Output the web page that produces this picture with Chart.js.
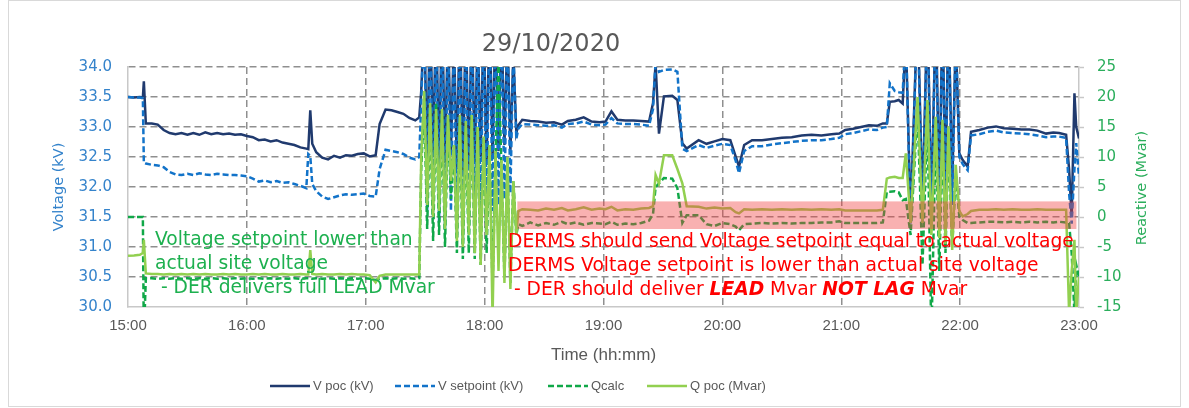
<!DOCTYPE html>
<html><head><meta charset="utf-8">
<script src="https://cdn.jsdelivr.net/npm/chart.js@4.4.0/dist/chart.umd.min.js"></script>
<style>html,body{margin:0;padding:0;background:#fff;}#wrap{width:1189px;height:408px;position:relative;}</style>
</head><body><div id="wrap"><canvas id="c" width="1189" height="408"></canvas></div>
<script>
// ---- data (minutes after 15:00) ----
const minutes = [0,3,6,7.5,8,9,12,15,18,21,24,27,30,33,36,39,42,45,48,51,54,57,60,63,66,69,72,75,78,81,84,87,90,91,92,93,95,98,101,104,107,110,113,116,119,122,125,127,130,133,136,139,142,145,147,
148,149.5,151,152.5,154,155.5,157,158.5,160,161.5,163,164.5,166,167.5,169,170.5,172,173.5,175,176.5,178,179.5,181,182.5,184,185.5,187,188.5,190,191.5,193,194.5,196,
197,199,203,207,211,215,219,222,226,230,234,238,241,244,247,251,255,259,263,265,266.3,268,270.5,274.7,277.3,279.8,282,288,292,296,300,304,306.7,308.4,311,315,320,325,330,335,340,345,350,355,359,362,366,370,374,378,381,383,384.5,387,389,391,
392.6,395,398.5,401,403.5,405.5,407.7,409.5,411.1,412.6,414.1,416,417.8,419.6,
421.3,423.8,425.5,429.7,434,438.1,442,446.5,451,455,459,463.4,467,470,473.5,475,476.3,477.7,478.6,480];
const vPoc = [33.50,33.49,33.50,33.49,33.76,33.06,33.06,33.04,32.95,32.90,32.88,32.90,32.87,32.90,32.87,32.91,32.88,32.90,32.88,32.89,32.87,32.88,32.85,32.83,32.78,32.79,32.76,32.78,32.74,32.72,32.70,32.66,32.64,32.63,33.28,32.72,32.58,32.49,32.46,32.52,32.49,32.53,32.52,32.55,32.56,32.51,32.53,33.05,33.29,33.28,33.25,33.22,33.15,33.11,33.16,
33.6,34.8,32.4,35.0,32.5,34.9,32.3,35.0,32.4,34.7,32.6,34.5,32.3,35.0,32.2,34.8,32.3,34.9,32.4,34.6,32.5,34.8,32.4,35.0,32.5,34.9,32.6,34.8,32.7,34.6,32.6,34.2,32.9,
33.03,33.12,33.10,33.09,33.07,33.08,33.04,33.10,33.12,33.16,33.09,33.08,33.09,33.26,33.12,33.11,33.11,33.10,33.09,33.40,34.05,32.89,33.51,33.52,33.45,32.73,32.64,32.78,32.72,32.76,32.80,32.78,32.51,32.34,32.70,32.78,32.78,32.80,32.82,32.83,32.86,32.87,32.86,32.88,32.89,32.95,32.97,33.00,33.03,33.02,33.06,33.06,33.42,33.43,33.45,33.39,
34.5,31.5,35.0,31.7,35.0,31.6,35.0,31.8,35.0,31.9,35.0,32.0,34.5,32.56,
32.45,32.34,32.92,32.95,32.99,33.01,32.98,32.97,32.96,32.96,32.94,32.89,32.91,32.90,32.87,32.30,31.50,33.56,33.00,32.81];
const vSetpoint = [33.50,33.49,33.49,33.48,32.40,32.39,32.37,32.36,32.33,32.25,32.21,32.20,32.22,32.20,32.23,32.21,32.20,32.22,32.21,32.20,32.20,32.19,32.18,32.14,32.09,32.11,32.08,32.10,32.07,32.08,32.05,32.02,31.98,32.55,32.52,32.05,31.93,31.84,31.80,31.83,31.86,31.88,31.87,31.88,31.89,31.85,31.84,32.30,32.62,32.60,32.58,32.55,32.49,32.46,32.50,
33.4,34.9,31.6,35.0,31.5,35.0,31.4,35.0,31.3,34.8,31.6,34.6,31.2,35.0,31.1,34.9,31.2,35.0,31.2,34.8,31.4,34.9,31.5,35.0,31.6,35.0,31.7,34.9,31.8,34.7,31.9,34.3,32.8,
32.97,33.05,33.04,33.03,33.02,33.03,32.99,33.05,33.06,33.09,33.04,33.03,33.04,33.15,33.06,33.05,33.05,33.04,33.02,33.30,34.10,33.92,33.95,33.96,33.92,32.64,32.60,32.70,32.65,32.69,32.72,32.70,32.44,32.23,32.60,32.68,32.68,32.71,32.73,32.75,32.77,32.78,32.78,32.80,32.82,32.88,32.90,32.93,32.96,32.95,32.99,33.00,33.73,33.60,33.58,33.57,
34.6,31.3,35.0,31.4,35.0,31.4,35.0,31.5,35.0,31.6,35.0,31.7,34.6,32.50,
32.38,32.28,32.86,32.88,32.92,32.94,32.91,32.90,32.89,32.88,32.86,32.83,32.84,32.84,32.82,31.90,31.39,32.30,32.73,32.17];
const qCalc = [0.0,0.0,0.0,0.0,-20,-10.2,-10.2,-10.3,-10.2,-10.3,-10.2,-10.3,-10.2,-10.3,-10.2,-10.3,-10.2,-10.3,-10.2,-10.3,-10.2,-10.3,-10.2,-10.3,-10.2,-10.3,-10.2,-10.3,-10.2,-10.3,-10.2,-10.3,-10.2,-10.2,-10.2,-10.3,-10.2,-10.3,-10.2,-10.3,-10.2,-10.3,-10.2,-10.3,-10.2,-10.3,-10.5,-10.3,-10.2,-10.3,-10.2,-10.3,-10.2,-10.3,-10.2,
8,19,-2,18,-4,19,-3,17,-5,16,3,12,-6,16,-7,15,-6,17,-7,15,-8,13,-6,12,-12,10,26,8,-10,9,-11,6,-3,
-1.2,-1.5,-0.9,-1.4,-1.0,-1.3,-0.8,-1.2,-0.9,-1.3,-1.0,-1.1,-1.2,-0.8,-1.3,-1.1,-1.2,-1.0,-0.6,0.5,5.0,5.6,6.5,6.4,4.8,-1.0,0.3,0.3,-1.2,-1.5,-1.0,-1.2,-1.6,-2.2,-1.2,-1.1,-1.0,-1.1,-1.0,-1.1,-1.0,-1.0,-0.9,-0.9,-0.7,-1.0,-1.0,-1.0,-1.0,-1.0,-0.9,4.2,4.2,4.3,4.1,2.8,
3,-3,18,-8,17,-20,15,-9,14,-6,13,-5,7,0.0,
-0.5,-1.0,-1.0,-0.9,-0.8,-0.8,-0.9,-0.8,-0.9,-0.8,-0.9,-0.8,-0.9,-0.8,-0.9,-1.0,-6,-16,-8,-10];
const qPoc = [-6.45,-6.4,-6.3,-6.0,-3.8,-9.4,-9.5,-9.5,-9.6,-9.5,-9.6,-9.5,-9.6,-9.5,-9.6,-9.5,-9.6,-9.6,-9.5,-9.6,-9.5,-9.6,-9.6,-9.5,-9.6,-9.5,-9.6,-9.6,-9.5,-9.6,-9.6,-9.5,-9.6,-9.6,-5.5,-9.5,-9.6,-9.5,-9.6,-9.6,-9.5,-9.6,-9.5,-9.6,-9.6,-9.7,-10.9,-9.8,-9.6,-9.6,-9.6,-9.6,-9.6,-9.6,-9.6,
10,21,2,19,0,18,1,18,-2,17,6,12,-4,17,-5,16,-3,17,-6,15,-8,13.4,-3,12,-17,11,-9,9.5,-11,10,-12,6,-3,
1.0,1.3,1.2,1.1,1.4,1.2,1.5,1.1,1.3,1.6,1.2,1.4,1.3,1.7,1.1,1.3,1.2,1.4,1.5,1.8,7.0,5.6,10.3,10.3,8.0,5.6,1.8,1.7,1.4,1.6,1.4,1.5,0.8,0.6,1.3,1.2,1.3,1.2,1.3,1.2,1.3,1.2,1.3,1.2,1.3,1.1,1.1,1.1,1.1,1.1,1.2,6.4,6.6,6.7,6.5,6.5,
10.6,-1,20,-1,19.5,-3,16.7,-3.5,16.2,-4.5,15.1,-5.5,8.7,1.0,
0.1,0.5,1.0,1.2,1.2,1.3,1.2,1.3,1.2,1.2,1.3,1.2,1.2,1.2,1.2,-16,-9,-3.8,-16,-10];
const seriesNames = ['V poc (kV)','V setpoint (kV)','Qcalc','Q poc (Mvar)'];
const timeTicks = [0,60,120,180,240,300,360,420,480];
const chartTitle = '29/10/2020';
const bandMinutes = [196.5, 478.7];
const bandReactive = [-2.0, 2.6];
const noteGreen = ['Voltage setpoint lower than','actual site voltage',' - DER delivers full LEAD Mvar'];
const noteRed1 = 'DERMS should send Voltage setpoint equal to actual voltage';
const noteRed2 = 'DERMS Voltage setpoint is lower than actual site voltage';
const noteRed3 = [[' - DER should deliver ',false],['LEAD',true],[' Mvar ',false],['NOT LAG',true],[' Mvar',false]];

const pts = arr => minutes.map((m,i)=>({x:m,y:arr[i]}));
const hhmm = v => { const t = 15*60+v; return Math.floor(t/60)+':'+String(t%60).padStart(2,'0'); };

const BLUE_TXT = '#3483CB', GREEN_TXT = '#2BAE5C', GREY = '#595959';
const GRID = '#8f8f8f', AXIS = '#c8c8c8';
const NOTE_FONT = '18.7px "DejaVu Sans"';

const overlay = {
  id:'overlay',
  beforeDraw(chart){
    const {ctx,width,height} = chart;
    ctx.save(); ctx.fillStyle='#fff'; ctx.fillRect(0,0,width,height); ctx.restore();
  },
  afterDatasetsDraw(chart){
    const {ctx, scales:{x,y2}} = chart;
    ctx.save();
    const bx0=x.getPixelForValue(bandMinutes[0]), bx1=x.getPixelForValue(bandMinutes[1]);
    const by0=y2.getPixelForValue(bandReactive[1]), by1=y2.getPixelForValue(bandReactive[0]);
    ctx.fillStyle='rgba(240,60,60,0.4)';
    ctx.fillRect(bx0,by0,bx1-bx0,by1-by0);
    ctx.textBaseline='middle'; ctx.textAlign='left';
    ctx.font=NOTE_FONT;
    ctx.fillStyle='#1DB04F';
    ctx.fillText(noteGreen[0],155,240);
    ctx.fillText(noteGreen[1],155,264);
    ctx.fillText(noteGreen[2],155,288);
    ctx.fillStyle='#FF0000';
    ctx.fillText(noteRed1,508,242);
    ctx.fillText(noteRed2,508,266);
    let cx=508;
    for(const [t,b] of noteRed3){
      ctx.font=(b?'italic bold ':'')+NOTE_FONT;
      ctx.fillText(t,cx,290);
      cx+=ctx.measureText(t).width;
    }
    ctx.restore();
  },
  afterDraw(chart){
    const {ctx} = chart;
    ctx.save();
    ctx.fillStyle=GREY; ctx.textAlign='center'; ctx.textBaseline='middle';
    ctx.font='24px "DejaVu Sans"';
    ctx.fillText(chartTitle,551,45);
    ctx.save();
    ctx.translate(1142,188); ctx.rotate(-Math.PI/2);
    ctx.font='14.5px "DejaVu Sans"'; ctx.fillStyle=GREEN_TXT;
    ctx.fillText('Reactive (Mvar)',0,0);
    ctx.restore();
    const xs=[270,395,548,647];
    ctx.font='13px "Liberation Sans"'; ctx.textAlign='left';
    chart.data.datasets.forEach((ds,i)=>{
      ctx.save();
      ctx.strokeStyle=ds.borderColor; ctx.lineWidth=2.5;
      ctx.setLineDash(ds.borderDash||[]);
      ctx.beginPath(); ctx.moveTo(xs[i],386); ctx.lineTo(xs[i]+40,386); ctx.stroke();
      ctx.restore();
      ctx.fillStyle=GREY;
      ctx.fillText(ds.label,xs[i]+43,386);
    });
    ctx.strokeStyle='#d9d9d9'; ctx.lineWidth=1;
    ctx.strokeRect(8.5,0.5,1172,406);
    ctx.restore();
  }
};

new Chart(document.getElementById('c'),{
  type:'line',
  data:{datasets:[
    {label:seriesNames[0],data:pts(vPoc),yAxisID:'y',borderColor:'#203A6E',borderWidth:2.5,pointRadius:0,tension:0,order:4},
    {label:seriesNames[1],data:pts(vSetpoint),yAxisID:'y',borderColor:'#1273C9',borderWidth:2.5,borderDash:[6,3],pointRadius:0,tension:0,order:3},
    {label:seriesNames[2],data:pts(qCalc),yAxisID:'y2',borderColor:'#10A848',borderWidth:2.5,borderDash:[6,3],pointRadius:0,tension:0,order:2},
    {label:seriesNames[3],data:pts(qPoc),yAxisID:'y2',borderColor:'#92D050',borderWidth:2.5,pointRadius:0,tension:0,order:1}
  ]},
  options:{
    responsive:false,animation:false,devicePixelRatio:1,
    layout:{padding:{top:67,left:0,right:0,bottom:0}},
    plugins:{legend:{display:false},title:{display:false},tooltip:{enabled:false}},
    scales:{
      x:{type:'linear',min:0,max:480,position:'bottom',
        afterBuildTicks:s=>{s.ticks=timeTicks.map(v=>({value:v}));},
        afterFit:s=>{s.height=101;},
        ticks:{callback:v=>hhmm(v),color:GREY,font:{family:'Liberation Sans',size:15},padding:10,maxRotation:0,autoSkip:false},
        grid:{drawTicks:false,lineWidth:1.5,color:c=>(c.tick&&(c.tick.value===0||c.tick.value===480))?'rgba(0,0,0,0)':GRID},
        border:{display:true,color:AXIS,width:1.5,dash:[7,4]},
        title:{display:true,text:'Time (hh:mm)',color:GREY,font:{family:'Liberation Sans',size:17},padding:{top:0,bottom:42}}
      },
      y:{type:'linear',position:'left',min:30,max:34,
        afterBuildTicks:s=>{s.ticks=[30,30.5,31,31.5,32,32.5,33,33.5,34].map(v=>({value:v}));},
        afterFit:s=>{s.width=128;},
        ticks:{callback:v=>Number(v).toFixed(1),color:BLUE_TXT,font:{family:'DejaVu Sans',size:15},padding:16},
        grid:{drawTicks:false,lineWidth:1.5,color:c=>(c.tick&&c.tick.value===30)?'rgba(0,0,0,0)':GRID},
        border:{display:true,color:AXIS,width:1.5,dash:[7,4]},
        title:{display:true,text:'Voltage (kV)',color:BLUE_TXT,font:{family:'DejaVu Sans',size:14.5},padding:{top:51,bottom:0}}
      },
      y2:{type:'linear',position:'right',min:-15,max:25,
        afterBuildTicks:s=>{s.ticks=[-15,-10,-5,0,5,10,15,20,25].map(v=>({value:v}));},
        afterFit:s=>{s.width=110;},
        ticks:{callback:v=>String(v),color:GREEN_TXT,font:{family:'DejaVu Sans',size:15},padding:13},
        grid:{drawOnChartArea:false,drawTicks:true,tickLength:5,tickColor:AXIS,tickWidth:1.5},
        border:{display:true,color:AXIS,width:1.5}
      }
    }
  },
  plugins:[overlay]
});
</script></body></html>
